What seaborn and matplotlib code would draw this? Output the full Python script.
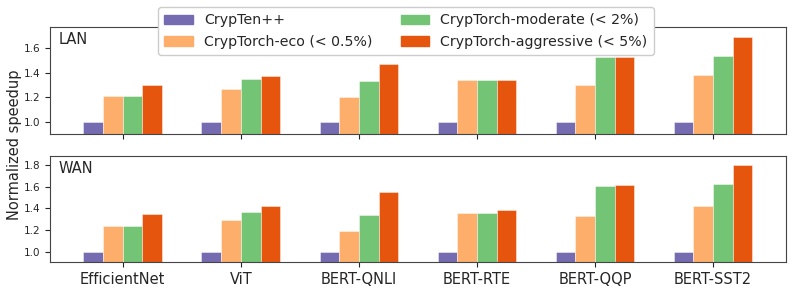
import pandas as pd
import matplotlib
matplotlib.use("Agg")
import matplotlib.pyplot as plt
import seaborn as sns

# Werte
models = ["EfficientNet", "ViT", "BERT-QNLI", "BERT-RTE", "BERT-QQP", "BERT-SST2"]
methods = ["CrypTen++", "CrypTorch-eco (< 0.5%)",
           "CrypTorch-moderate (< 2%)", "CrypTorch-aggressive (< 5%)"]
colors = ["#756bb1", "#fdae6b", "#74c476", "#e6550d"]

lan_crypten = [1.0, 1.0, 1.0, 1.0, 1.0, 1.0]
lan_eco = [1.21, 1.27, 1.20, 1.34, 1.30, 1.38]
lan_moderate = [1.21, 1.35, 1.33, 1.34, 1.53, 1.54]
lan_aggressive = [1.30, 1.37, 1.47, 1.34, 1.53, 1.69]

wan_crypten = [1.0, 1.0, 1.0, 1.0, 1.0, 1.0]
wan_eco = [1.24, 1.29, 1.19, 1.36, 1.33, 1.42]
wan_moderate = [1.24, 1.37, 1.34, 1.36, 1.61, 1.63]
wan_aggressive = [1.35, 1.42, 1.55, 1.39, 1.62, 1.80]


def to_long(series):
    rows = []
    for method, vals in zip(methods, series):
        for m, v in zip(models, vals):
            rows.append({"model": m, "method": method, "speedup": v})
    return pd.DataFrame(rows)


lan = to_long([lan_crypten, lan_eco, lan_moderate, lan_aggressive])
wan = to_long([wan_crypten, wan_eco, wan_moderate, wan_aggressive])

sns.set_style("ticks")
plt.rcParams["font.family"] = ["DejaVu Sans"]

fig = plt.figure(figsize=(7.93, 2.9), dpi=100)
ax_lan = fig.add_axes([0.063, 0.538, 0.928, 0.369])
ax_wan = fig.add_axes([0.063, 0.0955, 0.928, 0.3675])

for ax, df, name in [(ax_lan, lan, "LAN"), (ax_wan, wan, "WAN")]:
    sns.barplot(data=df, x="model", y="speedup", hue="method", hue_order=methods,
                palette=colors, saturation=1, width=2 / 3, ax=ax, legend=False,
                edgecolor=(1, 1, 1, 0.5), linewidth=0.6)
    ax.set_xlim(-0.617, 5.617)
    ax.set_ylim(0.9, df["speedup"].max() * 1.05)
    ax.set_yticks([1.0, 1.2, 1.4, 1.6, 1.8] if name == "WAN" else [1.0, 1.2, 1.4, 1.6])
    ax.set_xlabel("")
    ax.set_ylabel("")
    ax.tick_params(axis="y", labelsize=7.5)
    ax.tick_params(axis="x", labelsize=10.5)
    for s in ax.spines.values():
        s.set_visible(True)
        s.set_color("#444444")
    ax.text(0.012, 0.95, name, transform=ax.transAxes, fontsize=10.5, va="top", ha="left")

ax_lan.set_xticklabels([])

handles = [plt.Rectangle((0, 0), 1, 1, color=c) for c in colors]
fig.legend(handles, methods, loc="upper center", bbox_to_anchor=(0.512, 1.0),
           ncol=2, fontsize=10.2, handlelength=2.0, columnspacing=2.0,
           handletextpad=0.8, borderpad=0.45, labelspacing=0.5, framealpha=1)

fig.text(0.018, 0.5, "Normalized speedup", rotation=90, va="center", ha="center", fontsize=10.5)

plt.savefig("out.png", dpi=100)
plt.close()
